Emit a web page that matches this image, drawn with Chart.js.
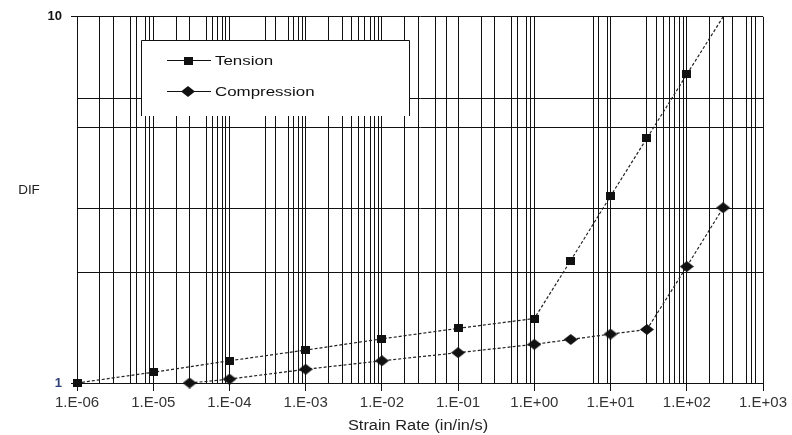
<!DOCTYPE html>
<html>
<head>
<meta charset="utf-8">
<script src="https://cdn.jsdelivr.net/npm/chart.js@4/dist/chart.umd.min.js"></script>
<style>
  html, body { margin: 0; padding: 0; background: #ffffff; }
  #wrap { width: 792px; height: 435px; }
</style>
</head>
<body>
<div id="wrap"><canvas id="c" width="792" height="435"></canvas></div>
<script>
// ---- Data ----
const seriesNames = ['Tension', 'Compression'];

const tensionRate = [1e-6, 1e-5, 1e-4, 1e-3, 1e-2, 1e-1, 1, 3, 10, 30, 100, 300];
const tensionDIF  = [1.00, 1.07, 1.15, 1.23, 1.32, 1.41, 1.50, 2.16, 3.24, 4.66, 6.96, 10.0];

const compressionRate = [3e-5, 1e-4, 1e-3, 1e-2, 1e-1, 1, 3, 10, 30, 100, 300];
const compressionDIF  = [1.00, 1.025, 1.09, 1.15, 1.21, 1.275, 1.315, 1.36, 1.40, 2.08, 3.01];

// tick labels shown on the axes
const xTickLabels = ['1.E-06', '1.E-05', '1.E-04', '1.E-03', '1.E-02', '1.E-01', '1.E+00', '1.E+01', '1.E+02', '1.E+03'];
const yTickLabels = ['1', '10'];

// grid line positions visible in the picture
const xGridValues = [
  1e-6, 2e-6, 3e-6, 5e-6, 6e-6, 8e-6, 9e-6,
  1e-5, 2e-5, 3e-5, 5e-5, 6e-5, 7e-5, 8e-5, 9e-5,
  1e-4, 3e-4, 4e-4, 6e-4, 7e-4, 8e-4, 9e-4,
  1e-3, 2e-3, 3e-3, 4e-3, 5e-3, 6e-3, 7e-3, 8e-3, 9e-3,
  1e-2, 2e-2, 3e-2, 5e-2, 7e-2,
  1e-1, 2e-1, 3e-1, 5e-1, 6e-1, 8e-1, 9e-1,
  1, 6, 7, 9,
  10, 30, 40, 50, 60, 70, 80, 90,
  100, 200, 300, 400, 600, 700, 800,
  1000
];
const yGridValues = [1, 2, 3, 5, 6, 10];

const xTitle = 'Strain Rate (in/in/s)';
const yTitle = 'DIF';

// ---- helpers ----
const FONT = "'Liberation Sans', Arial, Helvetica, sans-serif";
function isDecade(v) {
  const l = Math.log10(v);
  return Math.abs(l - Math.round(l)) < 1e-6;
}
function makeSquare(w, h) {
  const c = document.createElement('canvas');
  c.width = w; c.height = h;
  const g = c.getContext('2d');
  g.fillStyle = '#111';
  g.fillRect(0, 0, w, h);
  return c;
}
function makeDiamond(w, h) {
  const c = document.createElement('canvas');
  c.width = w; c.height = h;
  const g = c.getContext('2d');
  g.fillStyle = '#111';
  g.beginPath();
  g.moveTo(w / 2, 0);
  g.lineTo(w, h / 2);
  g.lineTo(w / 2, h);
  g.lineTo(0, h / 2);
  g.closePath();
  g.fill();
  return c;
}
const squareMark = makeSquare(9, 8);
const diamondMark = makeDiamond(14, 11);

function stretchedText(ctx, text, x, y, size, sx, align, color) {
  ctx.save();
  ctx.font = size + 'px ' + FONT;
  ctx.fillStyle = color;
  ctx.textBaseline = 'middle';
  const w = ctx.measureText(text).width * sx;
  let left = x;
  if (align === 'center') left = x - w / 2;
  else if (align === 'right') left = x - w;
  ctx.translate(left, y);
  ctx.scale(sx, 1);
  ctx.textAlign = 'left';
  ctx.fillText(text, 0, 0);
  ctx.restore();
}

const decorPlugin = {
  id: 'decor',
  afterDatasetsDraw(chart) {
    const ctx = chart.ctx;
    // legend box (inside the plot)
    const bx = 141, by = 40, bw = 268, bh = 76;
    ctx.save();
    ctx.fillStyle = '#ffffff';
    ctx.fillRect(bx, by, bw, bh);
    ctx.strokeStyle = '#111';
    ctx.lineWidth = 1;
    ctx.beginPath();
    ctx.moveTo(bx + 0.5, by + bh);
    ctx.lineTo(bx + 0.5, by + 0.5);
    ctx.lineTo(bx + bw + 0.5, by + 0.5);
    ctx.lineTo(bx + bw + 0.5, by + bh);
    ctx.stroke();
    const rows = [60, 91];
    const marks = [squareMark, diamondMark];
    rows.forEach((ry, i) => {
      ctx.beginPath();
      ctx.strokeStyle = '#111';
      ctx.lineWidth = 1.2;
      ctx.moveTo(167, ry + 0.5);
      ctx.lineTo(211, ry + 0.5);
      ctx.stroke();
      const m = marks[i];
      ctx.drawImage(m, 188 - m.width / 2, ry + 0.5 - m.height / 2);
      stretchedText(ctx, seriesNames[i], 215, ry + 1, 13, 1.3, 'left', '#111');
    });
    ctx.restore();
    // axis titles
    stretchedText(ctx, xTitle, 418, 426, 14, 1.17, 'center', '#222');
    stretchedText(ctx, yTitle, 29, 191, 12, 1.12, 'center', '#222');
  }
};

const tensionData = tensionRate.map((x, i) => ({ x: x, y: tensionDIF[i] }));
const compressionData = compressionRate.map((x, i) => ({ x: x, y: compressionDIF[i] }));

new Chart(document.getElementById('c'), {
  type: 'line',
  data: {
    datasets: [
      {
        label: seriesNames[0],
        data: tensionData,
        borderColor: '#222',
        borderWidth: 1.2,
        borderDash: [3, 2],
        pointStyle: squareMark,
        pointRadius: tensionRate.map((v, i) => (i === tensionRate.length - 1 ? 0 : 4)),
        fill: false,
        tension: 0,
        clip: false
      },
      {
        label: seriesNames[1],
        data: compressionData,
        borderColor: '#222',
        borderWidth: 1.2,
        borderDash: [3, 2],
        pointStyle: diamondMark,
        pointRadius: 5,
        fill: false,
        tension: 0,
        clip: false
      }
    ]
  },
  options: {
    responsive: false,
    animation: false,
    devicePixelRatio: 1,
    layout: { padding: { top: 15, right: 29, left: 0, bottom: 0 } },
    plugins: { legend: { display: false }, tooltip: { enabled: false } },
    scales: {
      x: {
        type: 'logarithmic',
        min: 1e-6,
        max: 1e3,
        afterBuildTicks: (s) => { s.ticks = xGridValues.map(v => ({ value: v, major: isDecade(v) })); },
        afterFit: (s) => { s.height = 52; },
        ticks: {
          autoSkip: false,
          maxRotation: 0,
          minRotation: 0,
          padding: 3,
          color: '#333',
          font: { family: FONT, size: 15 },
          callback: (v) => isDecade(v) ? xTickLabels[Math.round(Math.log10(v)) + 6] : ''
        },
        grid: {
          color: '#111',
          lineWidth: 1,
          tickLength: 8,
          tickColor: (c) => (c.tick && isDecade(c.tick.value)) ? '#111' : 'rgba(0,0,0,0)'
        },
        border: { color: '#111', width: 1 }
      },
      y: {
        type: 'logarithmic',
        min: 1,
        max: 10,
        afterBuildTicks: (s) => { s.ticks = yGridValues.map(v => ({ value: v, major: isDecade(v) })); },
        afterFit: (s) => { s.width = 77; },
        ticks: {
          autoSkip: false,
          padding: 9,
          color: (c) => (c.tick && c.tick.value === 1) ? '#2f3f78' : '#111',
          font: { family: FONT, size: 13, weight: 'bold' },
          callback: (v) => v === 1 ? yTickLabels[0] : (v === 10 ? yTickLabels[1] : '')
        },
        grid: {
          color: '#111',
          lineWidth: 1,
          tickLength: 6,
          tickColor: (c) => (c.tick && isDecade(c.tick.value)) ? '#111' : 'rgba(0,0,0,0)'
        },
        border: { color: '#111', width: 1 }
      }
    }
  },
  plugins: [decorPlugin]
});
</script>
</body>
</html>
